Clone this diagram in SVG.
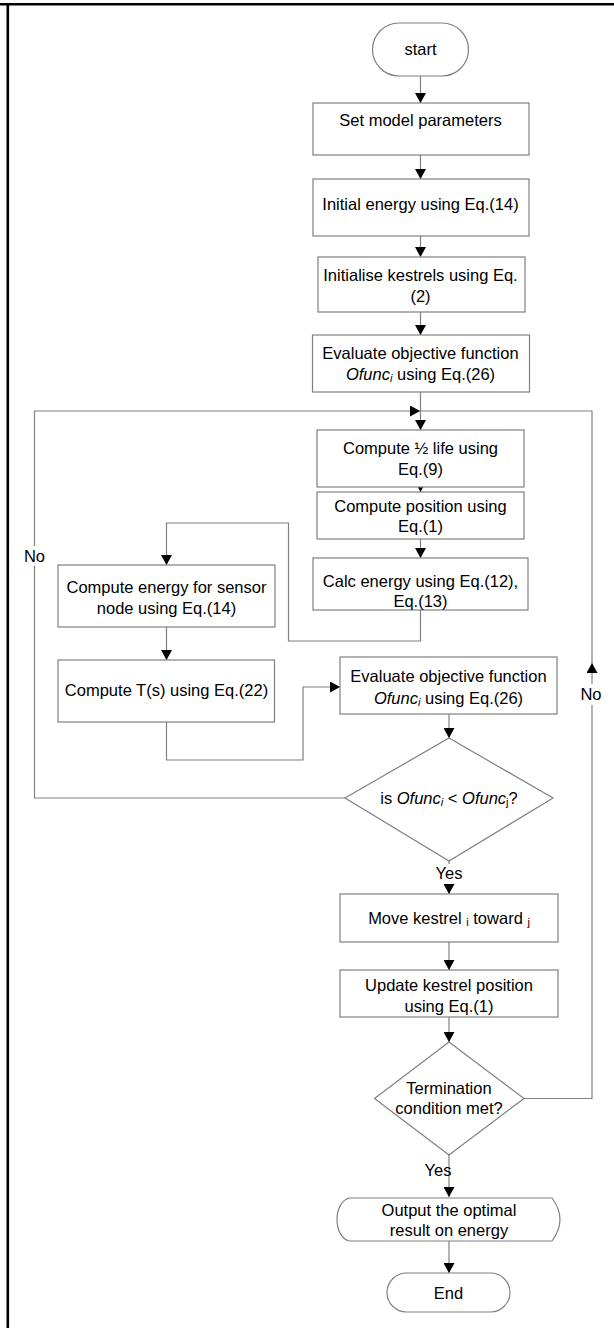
<svg xmlns="http://www.w3.org/2000/svg" width="614" height="1328" viewBox="0 0 614 1328">
<defs>
<marker id="arr" markerUnits="userSpaceOnUse" markerWidth="11" markerHeight="11" refX="10" refY="5.5" orient="auto">
<path d="M0,0 L10,5.5 L0,11 Z" fill="#000"/>
</marker>
<style>
.box{fill:#fff;stroke:#808080;stroke-width:1.2}
.ln{fill:none;stroke:#808080;stroke-width:1.2}
.ar{marker-end:url(#arr)}
text{font-family:"Liberation Sans",Arial,sans-serif;font-size:16.5px;fill:#000;text-anchor:middle}
.it{font-style:italic}
.sub{font-size:11px}
.bg{fill:#fff;stroke:none}
</style>
</defs>
<rect x="0" y="0" width="614" height="1328" fill="#fff"/>
<g id="frame">
<line x1="0" y1="4.2" x2="614" y2="4.2" stroke="#000" stroke-width="2.6"/>
<line x1="7.8" y1="3" x2="7.8" y2="1328" stroke="#000" stroke-width="2.6"/>
</g>
<g id="connectors">
<path class="ln ar" d="M420.5,76 V103"/>
<path class="ln ar" d="M420.5,155 V179"/>
<path class="ln ar" d="M420.5,236 V257"/>
<path class="ln ar" d="M420.5,312 V335"/>
<path class="ln ar" d="M420.5,392 V430"/>
<path class="ln ar" d="M420.5,487 V492"/>
<path class="ln ar" d="M420.5,539 V558"/>
<path class="ln ar" d="M420.5,610 V641 H288.5 V523 H166.5 V565"/>
<path class="ln ar" d="M166.5,627 V660"/>
<path class="ln ar" d="M166.5,722 V760 H303 V687 H340"/>
<path class="ln ar" d="M449,714 V738"/>
<path class="ln ar" d="M345,798 H34.5 V411 H420"/>
<path class="ln ar" d="M449,861 V894"/>
<path class="ln ar" d="M449,942 V970"/>
<path class="ln ar" d="M449,1017 V1042"/>
<path class="ln ar" d="M524,1098.5 H592 V663"/>
<path class="ln" d="M592,663 V411 H420.5"/>
<path class="ln ar" d="M449,1155 V1197"/>
<path class="ln ar" d="M449,1241 V1273"/>
<rect class="bg" x="22" y="546" width="25" height="20"/>
<text x="34.5" y="562">No</text>
<rect class="bg" x="579" y="684" width="25" height="21"/>
<text x="591" y="700">No</text>
<rect class="bg" x="433" y="864" width="32" height="20"/>
<text x="449" y="879">Yes</text>
<text x="438" y="1176">Yes</text>
</g>
<g id="start">
<rect class="box" x="372.5" y="23" width="96" height="53" rx="26.5" ry="26.5"/>
<text x="420.5" y="55">start</text>
</g>
<g id="set-params">
<rect class="box" x="313" y="103" width="216" height="52"/>
<text x="420.5" y="126">Set model parameters</text>
</g>
<g id="initial-energy">
<rect class="box" x="313" y="179" width="216" height="57"/>
<text x="420.5" y="210">Initial energy using Eq.(14)</text>
</g>
<g id="init-kestrels">
<rect class="box" x="318" y="257" width="207" height="55"/>
<text x="420.5" y="281">Initialise kestrels using Eq.</text>
<text x="420.5" y="302">(2)</text>
</g>
<g id="evaluate-1">
<rect class="box" x="312.5" y="335" width="217" height="57"/>
<text x="420.5" y="359">Evaluate objective function</text>
<text x="420.5" y="380"><tspan class="it">Ofunc</tspan><tspan class="sub it" dy="2">i</tspan><tspan dy="-2"> using Eq.(26)</tspan></text>
</g>
<g id="half-life">
<rect class="box" x="317" y="430" width="207" height="57"/>
<text x="420.5" y="454">Compute ½ life using</text>
<text x="420.5" y="475">Eq.(9)</text>
</g>
<g id="position">
<rect class="box" x="317" y="492" width="207" height="47"/>
<text x="420.5" y="512">Compute position using</text>
<text x="420.5" y="532">Eq.(1)</text>
</g>
<g id="calc-energy">
<rect class="box" x="313" y="558" width="215" height="52"/>
<text x="420.5" y="587">Calc energy using Eq.(12),</text>
<text x="420.5" y="607">Eq.(13)</text>
</g>
<g id="sensor-energy">
<rect class="box" x="58" y="565" width="217" height="62"/>
<text x="166.5" y="593">Compute energy for sensor</text>
<text x="166.5" y="614">node using Eq.(14)</text>
</g>
<g id="compute-ts">
<rect class="box" x="58" y="660" width="216.5" height="62"/>
<text x="166.5" y="696">Compute T(s) using Eq.(22)</text>
</g>
<g id="evaluate-2">
<rect class="box" x="340" y="657" width="217" height="57"/>
<text x="448.5" y="682">Evaluate objective function</text>
<text x="448.5" y="704"><tspan class="it">Ofunc</tspan><tspan class="sub it" dy="2">i</tspan><tspan dy="-2"> using Eq.(26)</tspan></text>
</g>
<g id="decision-1">
<polygon class="box" points="449,738 553,798 449,861 345,798"/>
<text x="449" y="804">is <tspan class="it">Ofunc</tspan><tspan class="sub it" dy="2">i</tspan><tspan dy="-2"> &lt; </tspan><tspan class="it">Ofunc</tspan><tspan class="sub" dy="2">j</tspan><tspan dy="-2">?</tspan></text>
</g>
<g id="move-kestrel">
<rect class="box" x="340" y="894" width="218" height="48"/>
<text x="449" y="924">Move kestrel <tspan class="sub" dy="2">i</tspan><tspan dy="-2"> toward </tspan><tspan class="sub" dy="2">j</tspan></text>
</g>
<g id="update-position">
<rect class="box" x="340" y="970" width="218" height="47"/>
<text x="449" y="991">Update kestrel position</text>
<text x="449" y="1012">using Eq.(1)</text>
</g>
<g id="decision-2">
<polygon class="box" points="449,1042 524,1098.5 449,1155 374.5,1098.5"/>
<text x="449" y="1094">Termination</text>
<text x="449" y="1114">condition met?</text>
</g>
<g id="output">
<path class="box" d="M349,1198 H552 Q568,1219.5 552,1241 H349 C333,1236 333,1203 349,1198 Z"/>
<text x="449" y="1216">Output the optimal</text>
<text x="449" y="1236">result on energy</text>
</g>
<g id="end">
<rect class="box" x="387" y="1273" width="123" height="39" rx="19.5" ry="19.5"/>
<text x="448.5" y="1299">End</text>
</g>
</svg>
